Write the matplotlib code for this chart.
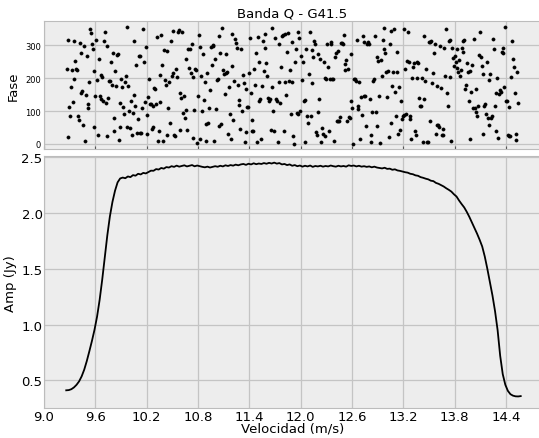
import matplotlib
matplotlib.use("Agg")
import matplotlib.pyplot as plt
import numpy as np

# Espectro de amplitud (Jy), canales equiespaciados entre 9.26 y 14.57
amp_v0, amp_v1 = 9.26, 14.57
amplitud = [
    0.410, 0.412, 0.420, 0.436, 0.459, 0.490, 0.535, 0.595, 0.672, 0.760,
    0.852, 0.952, 1.070, 1.220, 1.400, 1.600, 1.800, 1.970, 2.100, 2.200,
    2.275, 2.310, 2.318, 2.312, 2.328, 2.322, 2.340, 2.335, 2.352, 2.346,
    2.360, 2.355, 2.368, 2.380, 2.379, 2.394, 2.390, 2.404, 2.398, 2.412,
    2.408, 2.420, 2.414, 2.425, 2.416, 2.422, 2.428, 2.418, 2.424, 2.430,
    2.419, 2.426, 2.420, 2.414, 2.410, 2.416, 2.408, 2.414, 2.420, 2.415,
    2.424, 2.418, 2.428, 2.422, 2.430, 2.425, 2.434, 2.428, 2.436, 2.440,
    2.432, 2.442, 2.436, 2.446, 2.438, 2.444, 2.440, 2.448, 2.442, 2.450,
    2.444, 2.452, 2.443, 2.448, 2.436, 2.440, 2.430, 2.436, 2.424, 2.430,
    2.420, 2.426, 2.416, 2.424, 2.418, 2.426, 2.414, 2.422, 2.418, 2.424,
    2.416, 2.422, 2.418, 2.426, 2.420, 2.416, 2.424, 2.418, 2.422, 2.416,
    2.428, 2.422, 2.426, 2.418, 2.424, 2.416, 2.420, 2.414, 2.418, 2.410,
    2.416, 2.408, 2.404, 2.400, 2.406, 2.396, 2.398, 2.388, 2.392, 2.382,
    2.378, 2.372, 2.366, 2.362, 2.352, 2.348, 2.338, 2.334, 2.322, 2.316,
    2.308, 2.302, 2.290, 2.286, 2.270, 2.262, 2.250, 2.238, 2.222, 2.208,
    2.192, 2.168, 2.148, 2.112, 2.080, 2.050, 2.010, 1.965, 1.915, 1.865,
    1.815, 1.760, 1.700, 1.610, 1.500, 1.380, 1.260, 1.120, 0.950, 0.720,
    0.555, 0.460, 0.405, 0.375, 0.362, 0.356, 0.355, 0.358,
]

# Fase (grados) por canal, entre 9.265 y 14.54
fase_v0, fase_v1 = 9.265, 14.54
fase = [
    227, 22, 315, 113, 86, 172, 224, 128, 312, 198, 253, 229, 225, 85, 73,
    306, 277, 156, 160, 58, 297, 10, 149, 267, 110, 122, 189, 350, 337, 303,
    289, 52, 223, 146, 315, 194, 27, 259, 145, 136, 210, 202, 131, 313, 340,
    124, 23, 298, 140, 192, 190, 249, 179, 276, 38, 78, 223, 177, 271, 272,
    12, 125, 50, 198, 172, 113, 92, 189, 208, 50, 355, 177, 101, 47, 131,
    28, 94, 313, 150, 116, 239, 34, 77, 268, 33, 267, 34, 108, 350, 250,
    128, 295, 87, 30, 144, 198, 121, 120, 46, 50, 116, 169, 168, 120, 324,
    10, 39, 127, 209, 332, 240, 8, 285, 193, 178, 283, 27, 108, 188, 64,
    312, 205, 343, 217, 28, 23, 229, 203, 339, 345, 41, 156, 140, 339, 93,
    145, 80, 257, 104, 43, 289, 232, 288, 216, 305, 17, 202, 103, 229, 225,
    3, 146, 331, 15, 295, 206, 101, 274, 133, 187, 9, 60, 215, 63, 108,
    165, 295, 239, 298, 302, 9, 259, 107, 195, 198, 54, 329, 275, 60, 352,
    224, 214, 153, 272, 215, 219, 29, 173, 91, 15, 334, 237, 72, 191, 319,
    308, 292, 179, 118, 135, 44, 288, 99, 210, 185, 5, 35, 167, 113, 111,
    217, 323, 156, 73, 39, 40, 227, 179, 278, 7, 326, 131, 248, 136, 15,
    177, 313, 223,
    333, 293, 246, 205, 141, 131, 136, 41, 354, 172, 101, 40, 323, 136, 131,
    7, 303, 189, 124, 235, 328, 331, 39, 189, 333, 149, 280, 336, 191, 225,
    91, 189, 309, 25, 1, 248, 289, 94, 91, 339, 323, 101, 267, 195, 248,
    131, 134, 5, 290, 84, 64, 212, 339, 84, 286, 184, 263, 313, 303, 35,
    27, 273, 96, 136, 258, 5, 47, 30, 250, 199, 25, 197, 303, 233, 40,
    197, 311, 303, 197, 197, 10, 263, 278, 71, 69, 283, 71, 83, 306, 308,
    304, 331, 225, 242, 256, 71, 227, 81, 79, 273, 129, 108, 0, 197, 197,
    191, 315, 116, 106, 187, 15, 142, 88, 329, 146, 309, 145, 54, 303, 311,
    303, 138, 27, 7, 96, 192, 197, 329, 96, 265, 54, 253, 146, 3, 255,
    205, 316, 354, 288, 276, 219, 142, 223, 20, 303, 343, 63, 176, 219, 351,
    159, 86, 280, 218, 30, 172, 42, 131, 76, 86, 350, 89, 227, 91, 253,
    340, 248, 86, 76, 15, 199, 235, 245, 40, 27, 199, 248, 245, 140, 114,
    114, 201, 7, 138, 329, 191, 227, 7, 7, 309, 311, 71, 313, 184, 215,
    278, 303, 30, 176, 56, 58, 51, 298, 170, 27, 46, 27, 293, 205, 348,
    156, 116, 313, 202, 316, 8, 293, 260, 238, 268, 248, 290, 230, 218, 255,
    205, 225, 293, 280, 313, 316, 166, 180, 245, 218, 131, 223, 15, 157, 240,
    108, 318, 110, 98, 167, 84, 116, 271, 341, 263, 238, 212, 30, 116, 121,
    91, 248, 80, 195, 58, 212, 78, 84, 320, 289, 114, 40, 156, 199, 17,
    152, 164, 159, 280, 293, 278, 172, 356, 129, 131, 27, 111, 25, 23, 202,
    313, 258, 233, 156, 13, 30, 218, 124,
]

titulo = "Banda Q - G41.5"
xticks = [9.0, 9.6, 10.2, 10.8, 11.4, 12.0, 12.6, 13.2, 13.8, 14.4]
yticks_amp = [0.5, 1.0, 1.5, 2.0, 2.5]
yticks_fase = [0, 100, 200, 300]

vel_amp = np.linspace(amp_v0, amp_v1, len(amplitud))
vel_fase = np.linspace(fase_v0, fase_v1, len(fase))

plt.style.use("bmh")
plt.rcParams["grid.linestyle"] = "-"
plt.rcParams["grid.linewidth"] = 0.9
plt.rcParams["grid.color"] = "#c4c4c4"
plt.rcParams["axes.facecolor"] = "#ededed"

fig = plt.figure(figsize=(5.39, 4.39), dpi=100)
ax_f = fig.add_axes([0.0816, 0.658, 0.921, 0.292])
ax_a = fig.add_axes([0.0816, 0.068, 0.921, 0.574])

# Fase
ax_f.scatter(vel_fase, fase, s=5, color="black", zorder=3)
ax_f.set_xlim(9.0, 14.8)
ax_f.set_ylim(-16, 374)
ax_f.set_xticks(xticks)
ax_f.set_xticklabels([])
ax_f.set_yticks(yticks_fase)
ax_f.tick_params(axis="y", labelsize=6, length=0, pad=2)
ax_f.tick_params(axis="x", length=2, color="#555555")
ax_f.set_ylabel("Fase", fontsize=9.5, labelpad=4)
ax_f.set_title(titulo, fontsize=9.5, pad=3)

# Amplitud
ax_a.plot(vel_amp, amplitud, color="black", linewidth=1.3)
ax_a.set_xlim(9.0, 14.8)
ax_a.set_ylim(0.25, 2.51)
ax_a.set_xticks(xticks)
ax_a.set_yticks(yticks_amp)
ax_a.tick_params(labelsize=9.5, length=0, pad=1)
ax_a.set_xlabel("Velocidad (m/s)", fontsize=9.5, labelpad=-1)
ax_a.set_ylabel("Amp (Jy)", fontsize=9.5, labelpad=3)

fig.savefig("out.png", dpi=100)
